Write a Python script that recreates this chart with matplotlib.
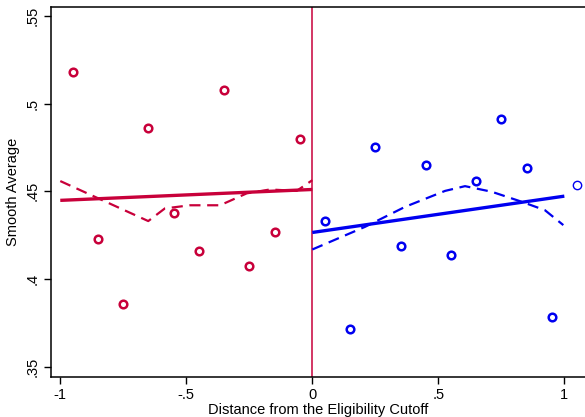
import matplotlib
matplotlib.use("Agg")
import matplotlib.pyplot as plt

plt.rcParams['font.family'] = ['Liberation Sans', 'DejaVu Sans']

red = "#C8003A"
blue = "#0000F0"

# binned averages
x_left = [-0.95, -0.85, -0.75, -0.65, -0.55, -0.45, -0.35, -0.25, -0.15, -0.05]
y_left = [0.518, 0.4227, 0.3856, 0.486, 0.4375, 0.4159, 0.5076, 0.4073, 0.4267, 0.4797]
x_right = [0.05, 0.15, 0.25, 0.35, 0.45, 0.55, 0.65, 0.75, 0.85, 0.95]
y_right = [0.433, 0.3714, 0.4752, 0.4187, 0.4649, 0.4136, 0.4558, 0.4911, 0.4632, 0.3782]
x_extra = [1.05]
y_extra = [0.4535]

# linear fits
fit_left_x = [-1.0, 0.0]
fit_left_y = [0.4448, 0.4510]
fit_right_x = [0.0, 1.0]
fit_right_y = [0.4265, 0.4472]

# local smooths
sm_left_x = [-1.0, -0.651, -0.585, -0.485, -0.366, -0.26, -0.168, -0.062, 0.0]
sm_left_y = [0.4558, 0.4330, 0.4402, 0.4420, 0.4420, 0.4488, 0.4510, 0.4502, 0.4563]
sm_right_x = [0.0, 0.209, 0.368, 0.527, 0.606, 0.712, 0.831, 0.923, 0.996]
sm_right_y = [0.4168, 0.4297, 0.4411, 0.4502, 0.4529, 0.4497, 0.4440, 0.4392, 0.4307]

fig = plt.figure(figsize=(5.85, 4.17), dpi=100)
ax = fig.add_axes([50.7 / 585, 1 - 376.7 / 417, (585 - 50.7) / 585, 369.7 / 417])

ax.axvline(0, color=red, lw=1.1, zorder=1)

ax.plot(fit_left_x, fit_left_y, color=red, lw=2.4, solid_capstyle='butt')
ax.plot(fit_right_x, fit_right_y, color=blue, lw=2.4, solid_capstyle='butt')
ax.plot(sm_left_x, sm_left_y, color=red, lw=1.6, dashes=(5, 3))
ax.plot(sm_right_x, sm_right_y, color=blue, lw=1.6, dashes=(5, 3))

ax.scatter(x_left, y_left, s=30, facecolors='white', edgecolors=red, linewidths=1.8, zorder=3)
ax.scatter(x_right, y_right, s=30, facecolors='white', edgecolors=blue, linewidths=1.8, zorder=3)
ax.scatter(x_extra, y_extra, s=36, facecolors='white', edgecolors=blue, linewidths=1.0, zorder=3)

ax.set_xlim(-1.038, 1.082)
ax.set_ylim(0.3443, 0.555)
ax.set_xticks([-1, -0.5, 0, 0.5, 1])
ax.set_xticklabels(['-1', '-.5', '0', '.5', '1'])
ax.set_yticks([0.35, 0.4, 0.45, 0.5, 0.55])
ax.set_yticklabels(['.35', '.4', '.45', '.5', '.55'], rotation=90, va='center')
ax.tick_params(direction='out', length=5, width=1, labelsize=10.5, pad=3)

ax.spines['right'].set_visible(False)
for s in ['left', 'bottom', 'top']:
    ax.spines[s].set_linewidth(1.1)

ax.set_xlabel("Distance from the Eligibility Cutoff", fontsize=10.5, labelpad=0.5)
ax.set_ylabel("Smooth Average", fontsize=10.5, labelpad=4)

plt.savefig("out.png", dpi=100)
